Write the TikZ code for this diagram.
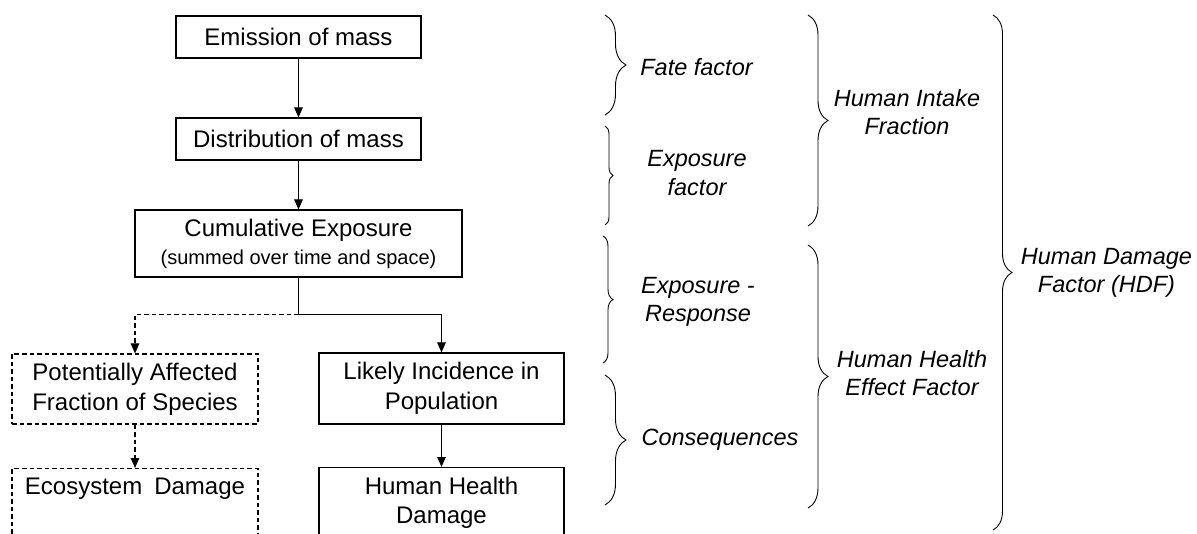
\documentclass[tikz,border=0pt]{standalone}
\usepackage{fontspec}
\setmainfont{Liberation Sans}
\usetikzlibrary{arrows.meta,decorations.pathreplacing}
\begin{document}
\begin{tikzpicture}[x=1pt,y=-1pt,
  box/.style={draw, line width=1.1pt, inner sep=0pt, align=center,
    font=\fontsize{24}{30}\selectfont},
  dbox/.style={box, dash pattern=on 4.5pt off 3pt},
  txt/.style={inner sep=0pt, align=center, font=\fontsize{24}{29}\selectfont},
  lbl/.style={inner sep=0pt, align=center, font=\fontsize{23.5}{28.5}\selectfont\itshape},
  arr/.style={line width=1.1pt, -{Triangle[width=8.5pt,length=10pt]}},
  darr/.style={arr, dash pattern=on 4.5pt off 3pt},
  brc/.style={decorate, decoration={brace, amplitude=#1pt}, line width=0.9pt}]
\useasboundingbox (0,0) rectangle (1197,534);
\clip (0,0) rectangle (1197,534);
\fill[white] (0,0) rectangle (1197,534);

% main chain
\node[box, minimum width=245pt, minimum height=42pt] (emit) at (298.5,37) {Emission of mass};
\node[box, minimum width=245pt, minimum height=42pt] (dist) at (298.5,139) {Distribution of mass};
\node[box, minimum width=327pt, minimum height=67pt] (cum) at (298.5,243.5)
  {Cumulative Exposure\\[-2pt]{\fontsize{20}{24}\selectfont (summed over time and space)}};

\node[dbox, minimum width=246pt, minimum height=70pt] (paf) at (135,389)
  {Potentially Affected\\Fraction of Species};
\node[box, minimum width=245pt, minimum height=71pt] (lik) at (441.5,388.5)
  {Likely Incidence in\\Population};

\node[dbox, minimum width=246pt, minimum height=100pt, anchor=north] (eco) at (135,468) {};
\node[txt] (ecot) at (135,489) {Ecosystem\hspace{0.5em}Damage};
\node[box, minimum width=245pt, minimum height=100pt, anchor=north] (hhd) at (441.5,467) {};
\node[txt] (hhdt) at (441.5,503) {Human Health\\Damage};

% connectors
\coordinate (j) at (298.5,314.5);
\draw[arr] (emit.south) -- (dist.north);
\draw[arr] (dist.south) -- (cum.north);
\draw[arr] (cum.south) -- (j) -| (lik.north);
\draw[darr] (j) -| (paf.north);
\draw[darr] (paf.south) -- (eco.north);
\draw[arr] (lik.south) -- (hhd.north);

% braces
\coordinate (b1t) at (605,15);  \coordinate (b1b) at (605,115);
\coordinate (b2t) at (605,126); \coordinate (b2b) at (605,225);
\coordinate (b3t) at (603,236); \coordinate (b3b) at (603,363);
\coordinate (b4t) at (605,375); \coordinate (b4b) at (605,505);
\coordinate (b5t) at (808,15);  \coordinate (b5b) at (808,226);
\coordinate (b6t) at (808,245); \coordinate (b6b) at (808,508);
\coordinate (b7t) at (993,15);  \coordinate (b7b) at (993,530);
\draw[brc=21] (b1t) -- (b1b);
\draw[brc=8]  (b2t) -- (b2b);
\draw[brc=10] (b3t) -- (b3b);
\draw[brc=21] (b4t) -- (b4b);
\draw[brc=20] (b5t) -- (b5b);
\draw[brc=20] (b6t) -- (b6b);
\draw[brc=19] (b7t) -- (b7b);

% labels
\node[lbl] (fate) at (696.5,67) {Fate factor};
\node[lbl] (expf) at (697,173) {Exposure\\factor};
\node[lbl] (expr) at (698,302) {Exposure -\\Response};
\node[lbl] (cons) at (720,440) {Consequences};
\node[lbl] (hif) at (907,112) {Human Intake\\Fraction};
\node[lbl] (hhe) at (912,373) {Human Health\\Effect Factor};
\node[lbl] (hdf) at (1106.5,273) {Human Damage\\Factor (HDF)};
\end{tikzpicture}
\end{document}
